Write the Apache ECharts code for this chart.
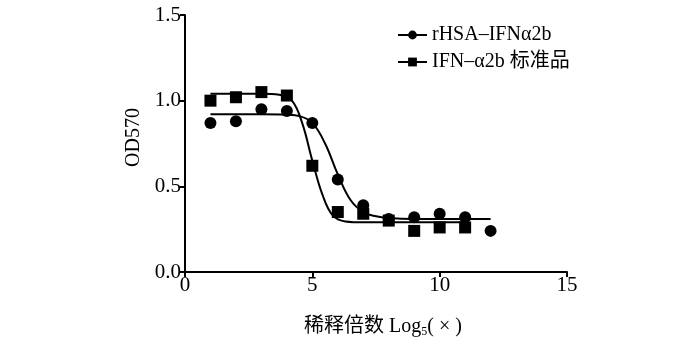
<!DOCTYPE html>
<html>
<head>
<meta charset="utf-8">
<script src="https://cdn.jsdelivr.net/npm/echarts@6/dist/echarts.min.js"></script>
<style>
  html, body { margin: 0; padding: 0; background: #fff; }
  #chart { width: 700px; height: 345px; }
</style>
</head>
<body>
<div id="chart"></div>
<script>
// measured points
const rhsaX = [1, 2, 3, 4, 5, 6, 7, 8, 9, 10, 11, 12]
const rhsaY = [0.87, 0.88, 0.95, 0.94, 0.87, 0.54, 0.39, 0.31, 0.32, 0.34, 0.32, 0.24]
const stdX = [1, 2, 3, 4, 5, 6, 7, 8, 9, 10, 11]
const stdY = [1.0, 1.02, 1.05, 1.03, 0.62, 0.35, 0.34, 0.30, 0.24, 0.26, 0.26]

// fitted curves
const rhsaFitX = [1, 2, 3, 4, 4.5, 5, 5.5, 6, 6.5, 7, 7.5, 8, 9, 10, 11, 12]
const rhsaFitY = [0.92, 0.92, 0.92, 0.918, 0.91, 0.87, 0.75, 0.57, 0.42, 0.35, 0.325, 0.315, 0.31, 0.31, 0.31, 0.31]
const stdFitX = [1, 2, 3, 3.7, 4.2, 4.6, 5.0, 5.4, 5.8, 6.3, 7, 8, 9, 10, 11]
const stdFitY = [1.04, 1.04, 1.04, 1.035, 1.0, 0.87, 0.65, 0.45, 0.33, 0.295, 0.29, 0.29, 0.29, 0.29, 0.29]

const yTicks = [0, 0.5, 1.0, 1.5]
const xTicks = [0, 5, 10, 15]

const serif = '"Liberation Serif", "Noto Sans CJK SC", serif'
const zip = (xs, ys) => xs.map((x, i) => [x, ys[i]])

const chart = echarts.init(document.getElementById('chart'))

const axisBase = {
  axisLine: { show: true, onZero: false, lineStyle: { color: '#000', width: 2 } },
  axisTick: { show: true, length: 5, lineStyle: { color: '#000', width: 2 } },
  splitLine: { show: false },
  axisLabel: { color: '#000', fontFamily: serif, fontSize: 21 }
}

const option = {
  animation: false,
  grid: { left: 185, right: 133, top: 15, bottom: 73 },
  xAxis: {
    ...axisBase,
    type: 'value',
    min: xTicks[0],
    max: xTicks[xTicks.length - 1],
    interval: 5,
    axisLabel: { ...axisBase.axisLabel, margin: 3 },
    name: '稀释倍数 Log{sub|5}( × )',
    nameLocation: 'middle',
    nameGap: 44,
    nameTextStyle: {
      color: '#000', fontFamily: serif, fontSize: 20, padding: [0, 0, 0, 14],
      rich: { sub: { fontFamily: serif, fontSize: 12, verticalAlign: 'bottom', padding: [10, 0, 0, 0] } }
    }
  },
  yAxis: {
    ...axisBase,
    type: 'value',
    min: yTicks[0],
    max: yTicks[yTicks.length - 1],
    interval: 0.5,
    axisLabel: { ...axisBase.axisLabel, margin: 4, formatter: v => v.toFixed(1) },
    name: 'OD570',
    nameLocation: 'middle',
    nameGap: 40,
    nameTextStyle: { color: '#000', fontFamily: serif, fontSize: 20, padding: [0, 0, 0, 12] }
  },
  legend: {
    orient: 'vertical',
    left: 392,
    top: 20,
    itemWidth: 29,
    itemHeight: 11,
    itemGap: 7,
    data: ['rHSA–IFNα2b', 'IFN–α2b 标准品'],
    textStyle: { color: '#000', fontFamily: serif, fontSize: 20 }
  },
  series: [
    {
      name: 'rHSA–IFNα2b',
      type: 'line',
      smooth: 0.4,
      data: zip(rhsaFitX, rhsaFitY),
      symbol: 'circle',
      symbolSize: 12,
      showSymbol: false,
      itemStyle: { color: '#000' },
      lineStyle: { color: '#000', width: 2 }
    },
    {
      name: 'IFN–α2b 标准品',
      type: 'line',
      smooth: 0.4,
      data: zip(stdFitX, stdFitY),
      symbol: 'rect',
      symbolSize: 12,
      showSymbol: false,
      itemStyle: { color: '#000' },
      lineStyle: { color: '#000', width: 2 }
    },
    {
      name: 'rhsa-points',
      type: 'scatter',
      data: zip(rhsaX, rhsaY),
      symbol: 'circle',
      symbolSize: 12,
      itemStyle: { color: '#000', opacity: 1 }
    },
    {
      name: 'std-points',
      type: 'scatter',
      data: zip(stdX, stdY),
      symbol: 'rect',
      symbolSize: 12,
      itemStyle: { color: '#000', opacity: 1 }
    }
  ]
}

chart.setOption(option)
</script>
</body>
</html>
